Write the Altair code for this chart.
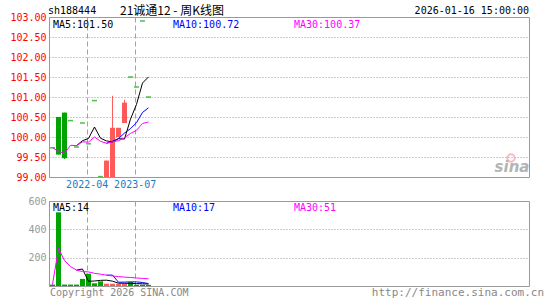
import altair as alt
import pandas as pd

# ---------------- data ----------------
week_index = list(range(17))
opens  = [99.73, 100.50, 100.61, 100.41, 99.75, 100.35, 99.83, 100.91, 99.01,
          98.80, 98.90, 100.00, 100.35, 101.50, 101.25, 102.90, 101.00]
closes = [99.73, 99.56, 99.47, 100.41, 99.75, 100.35, 99.83, 100.91, 99.01,
          99.41, 100.23, 100.23, 100.86, 101.50, 101.25, 102.90, 101.00]
highs  = [99.73, 100.50, 100.61, 100.41, 99.75, 100.35, 99.83, 100.91, 99.01,
          99.41, 101.03, 100.23, 100.93, 101.50, 101.25, 102.90, 101.00]
lows   = [99.73, 99.56, 99.45, 100.41, 99.75, 100.35, 99.83, 100.91, 99.01,
          98.80, 98.90, 100.00, 100.35, 101.50, 101.25, 102.90, 101.00]
volumes = [10, 520, 10, 10, 10, 50, 87, 19, 33, 16, 16, 16, 16, 28, 9, 9, 8]

date_labels = ["2022-04", "2023-07"]
date_weeks = [6, 14]
price_ticks = [99.0, 99.5, 100.0, 100.5, 101.0, 101.5, 102.0, 102.5, 103.0]
volume_ticks = [200, 400, 600]
ma_windows = [5, 10, 30]
ma_first_week = [4, 9, 0]
price_ma_labels = ["MA5:101.50", "MA10:100.72", "MA30:100.37"]
volume_ma_labels = ["MA5:14", "MA10:17", "MA30:51"]
slot_count = 80

code_text = "sh188444"
title_text = "21诚通12 - 周K线图"
time_text = "2026-01-16 15:00:00"
copyright_text = "Copyright 2026 SINA.COM"
url_text = "http://finance.sina.com.cn"

# ---------------- style ----------------
MONO = "DejaVu Sans Mono"
RED = "#ff5a5a"
GREEN = "#00a400"
MA_COLORS = ["#000000", "#0000ff", "#ff00ff"]
GRID = "#a0a0a0"
W, H1, H2, GAP = 480, 160, 85, 24
LEFT, TOP = 49, 17

df = pd.DataFrame({"i": week_index, "open": opens, "close": closes,
                   "high": highs, "low": lows, "vol": volumes})

base = alt.Chart(df).transform_calculate(
    dir="datum.close > datum.open ? 'up' : 'down'")

color = alt.Color("dir:N", scale=alt.Scale(domain=["up", "down"], range=[RED, GREEN]),
                  legend=None)
xscale = alt.Scale(domain=[-0.583, slot_count - 0.583], nice=False, zero=False, padding=0)

grid_pos = [w - 0.3 for w in date_weeks]
expr = "'" + date_labels[-1] + "'"
for p, lab in reversed(list(zip(grid_pos[:-1], date_labels[:-1]))):
    expr = f"datum.value < {p + 1} ? '{lab}' : {expr}"

x_top_axis = alt.Axis(values=grid_pos, labelExpr=expr, labelColor="#1a7cc4",
                      labelFont=MONO, labelFontSize=10, labelPadding=2,
                      ticks=False, domain=False, grid=True, gridColor=GRID,
                      gridDash=[5, 3], labelOverlap=False)
x_bot_axis = alt.Axis(values=grid_pos, labels=False, ticks=False, domain=False,
                      grid=True, gridColor=GRID, gridDash=[5, 3])

pscale = alt.Scale(domain=[99, 103], nice=False, zero=False, padding=0)
vscale = alt.Scale(domain=[0, 600], nice=False, padding=0)

y_price_axis = alt.Axis(values=price_ticks, format=".2f", labelColor="#ff0000",
                        labelFont=MONO, labelFontSize=10, labelPadding=3, ticks=False,
                        grid=True, gridColor="#999999", gridDash=[1, 2],
                        domainColor="#999999", labelOverlap=False, labelFlush=False)
y_vol_axis = alt.Axis(values=volume_ticks, labelColor="#999999", labelFont=MONO,
                      labelFontSize=10, labelPadding=3, ticks=False, grid=True,
                      gridColor="#999999", gridDash=[1, 2], domainColor="#999999",
                      labelOverlap=False, labelFlush=False)


def xt(field="i:Q"):
    return alt.X(field, scale=xscale, axis=x_top_axis, title=None)


def xb(field="i:Q"):
    return alt.X(field, scale=xscale, axis=x_bot_axis, title=None)


def yp(field):
    return alt.Y(field, scale=pscale, axis=y_price_axis, title=None)


def yv(field):
    return alt.Y(field, scale=vscale, axis=y_vol_axis, title=None)


def label(text, x, y, col, size=10, align="left", font=MONO, **kw):
    return alt.Chart(pd.DataFrame({"t": [text]})).mark_text(
        align=align, baseline="middle", font=font, fontSize=size, color=col, **kw
    ).encode(x=alt.value(x), y=alt.value(y), text="t:N")


# ---------------- price panel ----------------
wicks = base.mark_rule(strokeWidth=1, clip=True).encode(
    x=xt(), y=yp("low:Q"), y2="high:Q", color=color)
bodies = base.mark_bar(size=5, clip=True).encode(
    x=xt(), y=yp("open:Q"), y2="close:Q", color=color)
flats = base.transform_filter("datum.open == datum.close").mark_tick(
    orient="horizontal", size=5, thickness=1.5, clip=True).encode(
    x=xt(), y=yp("close:Q"), color=color)

price_mas = []
for n, start, c in zip(ma_windows, ma_first_week, MA_COLORS):
    price_mas.append(
        base.transform_window(ma="mean(close)", frame=[-(n - 1), 0], sort=[alt.SortField("i")])
        .transform_filter(f"datum.i >= {start}")
        .mark_line(color=c, strokeWidth=1, clip=True)
        .encode(x=xt(), y=yp("ma:Q"))
    )

top_texts = [
    label(code_text, -1, -6, "black", size=10),
    label(title_text, 71, -6, "black", size=12, font="Noto Sans CJK SC"),
    label(time_text, 480, -6, "black", size=10, align="right"),
    label(price_ma_labels[0], 4, 8, MA_COLORS[0]),
    label(price_ma_labels[1], 124, 8, MA_COLORS[1]),
    label(price_ma_labels[2], 245, 8, MA_COLORS[2]),
    label("sina", 463, 150, "#b4b4b4", size=15, font="DejaVu Sans",
          fontStyle="italic", fontWeight="bold", align="center"),
]
eye = alt.Chart(pd.DataFrame({"t": ["eye"]})).mark_point(
    shape="circle", size=55, filled=False, color="#f4a0a8", strokeWidth=2
).encode(x=alt.value(462), y=alt.value(141))

top = alt.layer(wicks, bodies, flats, *price_mas, *top_texts, eye).properties(
    width=W, height=H1)

# ---------------- volume panel ----------------
vbars = base.mark_bar(size=5, clip=True).encode(
    x=xb(), y=yv("vol:Q"), color=color)
vol_mas = []
for n, start, c in zip(ma_windows, ma_first_week, MA_COLORS):
    vol_mas.append(
        base.transform_window(ma="mean(vol)", frame=[-(n - 1), 0], sort=[alt.SortField("i")])
        .transform_filter(f"datum.i >= {start}")
        .mark_line(color=c, strokeWidth=1, clip=True)
        .encode(x=xb(), y=yv("ma:Q"))
    )
bot_texts = [
    label(volume_ma_labels[0], 4, 7, MA_COLORS[0]),
    label(volume_ma_labels[1], 124, 7, MA_COLORS[1]),
    label(volume_ma_labels[2], 245, 7, MA_COLORS[2]),
    label(copyright_text, 1, 92, "#888888", size=10),
    label(url_text, 495, 92, "#888888", size=11, align="right"),
]
bottom = alt.layer(vbars, *vol_mas, *bot_texts).properties(width=W, height=H2)

# With autosize "none" the concat view reports the panel width but no height,
# so the padding supplies the rest of the 545x300 page.
chart = alt.vconcat(top, bottom, spacing=GAP, bounds="flush").properties(
    autosize=alt.AutoSizeParams(type="none"),
    padding={"left": LEFT, "top": TOP, "right": 545 - LEFT - W,
             "bottom": 300 - TOP},
    background="white",
).configure_view(stroke="#999999", strokeWidth=1)

chart.save("out.html", embed_options={"renderer": "svg", "actions": False})
